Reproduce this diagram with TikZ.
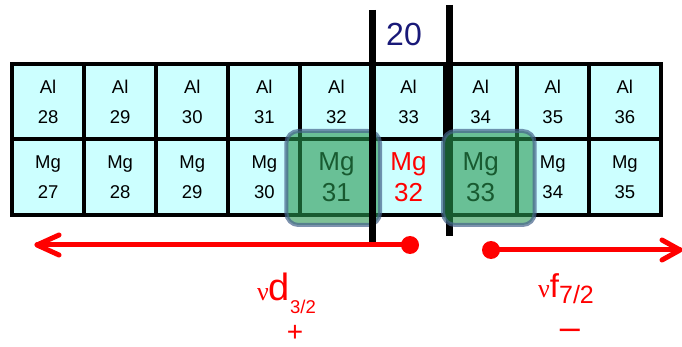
\documentclass[tikz,border=0pt]{standalone}
\usepackage{fontspec}
\setmainfont{Liberation Sans}
\newfontfamily\nufont{Liberation Serif}
\definecolor{cellcyan}{RGB}{204,255,255}
\definecolor{boxgreen}{RGB}{40,150,80}
\definecolor{boxedge}{RGB}{70,100,140}
\definecolor{shellnavy}{RGB}{25,25,120}
\begin{document}
\begin{tikzpicture}[
x=1pt, y=-1pt,
cell/.style={
rectangle,
draw=black,
line width=4pt,
fill=cellcyan,
inner sep=0pt,
align=center,
minimum width=72.1pt,
minimum height=75.5pt,
font=\fontsize{18.5}{30}\selectfont
},
bigcell/.style={
cell,
font=\fontsize{26}{31}\selectfont
},
glow/.style={
rounded corners=12pt,
fill=boxgreen,
fill opacity=0.6,
draw=boxedge,
draw opacity=0.7,
line width=4pt
},
wall/.style={line width=7pt},
orbit/.style={red, line width=5pt, line cap=round, line join=round}
]
\useasboundingbox (0,0) rectangle (682,347);

% Al row
\node[cell] (al28) at (48.05,101.75) {Al\\28};
\node[cell] (al29) at (120.15,101.75) {Al\\29};
\node[cell] (al30) at (192.25,101.75) {Al\\30};
\node[cell] (al31) at (264.35,101.75) {Al\\31};
\node[cell] (al32) at (336.45,101.75) {Al\\32};
\node[cell] (al33) at (408.55,101.75) {Al\\33};
\node[cell] (al34) at (480.65,101.75) {Al\\34};
\node[cell] (al35) at (552.75,101.75) {Al\\35};
\node[cell] (al36) at (624.85,101.75) {Al\\36};

% Mg row
\node[cell] (mg27) at (48.05,177.25) {Mg\\27};
\node[cell] (mg28) at (120.15,177.25) {Mg\\28};
\node[cell] (mg29) at (192.25,177.25) {Mg\\29};
\node[cell] (mg30) at (264.35,177.25) {Mg\\30};
\node[bigcell] (mg31) at (336.45,177.25) {Mg\\31};
\node[bigcell, text=red] (mg32) at (408.55,177.25) {Mg\\32};
\node[bigcell] (mg33) at (480.65,177.25) {Mg\\33};
\node[cell] (mg34) at (552.75,177.25) {Mg\\34};
\node[cell] (mg35) at (624.85,177.25) {Mg\\35};

% Shell gap at N = 20
\node[text=shellnavy, font=\fontsize{32}{32}\selectfont] (magic) at (404,34) {20};
\draw[wall] (449.5,5) -- (449.5,236);

% Highlighted nuclei
\draw[glow] ([shift={(-12,-6.5)}]mg31.north west) rectangle ([shift={(5.5,8)}]mg31.south east);
\draw[glow] ([shift={(0.5,-6.5)}]mg33.north west) rectangle ([shift={(16,8)}]mg33.south east);

\draw[wall] (372,10) -- (372,245);

% Orbit arrows (round dot at the start, open barb at the tip)
\coordinate (dstart) at (410,245);
\coordinate (dtip) at (37,245);
\coordinate (fstart) at (491,250);
\coordinate (ftip) at (680,250);

\draw[orbit] (dstart) -- (dtip);
\draw[orbit] ([shift={(22,-10)}]dtip) -- (dtip) -- ([shift={(22,10)}]dtip);
\fill[red] (dstart) circle[radius=9pt];

\draw[orbit] (fstart) -- (ftip);
\draw[orbit] ([shift={(-18,-10)}]ftip) -- (ftip) -- ([shift={(-18,10)}]ftip);
\fill[red] (fstart) circle[radius=9pt];

% Orbit labels
\node[text=red, anchor=base west, inner sep=0pt] (dlabel) at (257,300)
{{\nufont\fontsize{26}{26}\selectfont ν}{\fontsize{38}{38}\selectfont d}\raisebox{-13pt}{\fontsize{18.5}{18.5}\selectfont 3/2}};
\node[text=red, anchor=base, inner sep=0pt, font=\fontsize{28}{28}\selectfont] (dparity) at (295,341.5) {+};

\node[text=red, anchor=base west, inner sep=0pt] (flabel) at (538,297)
{{\nufont\fontsize{26}{26}\selectfont ν}{\fontsize{33}{33}\selectfont f}\raisebox{-6pt}{\fontsize{25}{25}\selectfont 7/2}};
\node[text=red, anchor=base, inner sep=0pt, font=\fontsize{36}{36}\selectfont] (fparity) at (570,339) {–};

\end{tikzpicture}
\end{document}
